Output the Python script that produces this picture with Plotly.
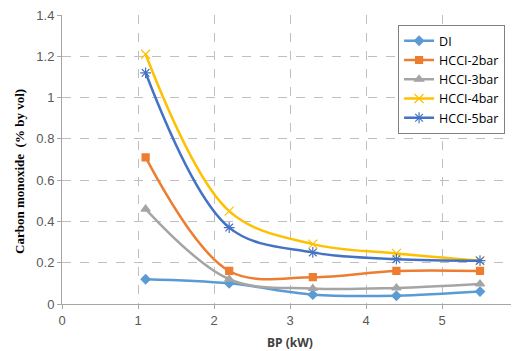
import plotly.graph_objects as go

bp = [1.1, 2.2, 3.3, 4.4, 5.5]
di = [0.12, 0.10, 0.045, 0.04, 0.06]
hcci_2bar = [0.71, 0.16, 0.13, 0.16, 0.16]
hcci_3bar = [0.46, 0.12, 0.075, 0.078, 0.097]
hcci_4bar = [1.21, 0.45, 0.29, 0.245, 0.21]
hcci_5bar = [1.12, 0.37, 0.25, 0.217, 0.21]

series = [
    ("DI", di, "#5B9BD5", "diamond", 7),
    ("HCCI-2bar", hcci_2bar, "#ED7D31", "square", 7),
    ("HCCI-3bar", hcci_3bar, "#A5A5A5", "triangle-up", 8),
    ("HCCI-4bar", hcci_4bar, "#FFC000", "x-thin-open", 9),
    ("HCCI-5bar", hcci_5bar, "#4472C4", "asterisk-open", 9),
]

fig = go.Figure()
for name, ys, color, sym, size in series:
    fig.add_trace(go.Scatter(
        x=bp, y=ys, name=name, mode="lines+markers",
        line=dict(color=color, width=2.5, shape="spline", smoothing=1.0),
        marker=dict(symbol=sym, size=size, color=color,
                    line=dict(color=color, width=1.2)),
    ))

# page body has an 8px margin; the figure is sized/placed to compensate
fig.update_layout(
    width=511, height=343,
    margin=dict(l=54, r=1, t=7, b=47, autoexpand=False),
    paper_bgcolor="white", plot_bgcolor="white",
    font=dict(family="Liberation Sans, Arial, sans-serif", size=12, color="#595959"),
    showlegend=True,
    legend=dict(
        x=0.737, y=0.965, xanchor="left", yanchor="top",
        bordercolor="#808080", borderwidth=1, bgcolor="white",
        font=dict(family="Open Sans, Liberation Sans, sans-serif", size=12.5, color="#000000"),
        itemwidth=30, tracegroupgap=0,
    ),
)
fig.update_xaxes(
    range=[0, 6], dtick=1, tick0=0, automargin=False,
    showline=True, linecolor="#A6A6A6", linewidth=1,
    ticks="outside", ticklen=4, tickcolor="#A6A6A6",
    showgrid=True, gridcolor="#BFBFBF", griddash="dash", gridwidth=1,
    zeroline=False, mirror=False, ticklabeloverflow="allow",
    tickfont=dict(size=13, color="#595959"),
)
fig.update_yaxes(
    range=[0, 1.4], dtick=0.2, tick0=0, automargin=False,
    showline=True, linecolor="#A6A6A6", linewidth=1,
    ticks="outside", ticklen=4, tickcolor="#A6A6A6",
    showgrid=True, gridcolor="#BFBFBF", griddash="dash", gridwidth=1,
    zeroline=False, ticklabeloverflow="allow",
    tickfont=dict(size=13, color="#595959"),
    tickformat="~g",
)
fig.add_annotation(
    text="<b>Carbon monoxide  (% by vol)</b>", textangle=-90,
    xref="paper", yref="paper", x=0, y=0.457, xanchor="center", yanchor="middle",
    xshift=-42, showarrow=False,
    font=dict(family="Liberation Serif, Times New Roman, serif", size=13, color="#000000"),
)
fig.add_annotation(
    text="<b>BP (kW)</b>",
    xref="paper", yref="paper", x=0.5, y=0, xanchor="center", yanchor="middle",
    yshift=-38, showarrow=False,
    font=dict(family="Open Sans, Liberation Sans, sans-serif", size=12, color="#404040"),
)
fig.add_shape(type="line", xref="paper", yref="paper", x0=1, x1=1, y0=0, y1=1,
              line=dict(color="#BFBFBF", width=1))

fig.write_html("out.html")
